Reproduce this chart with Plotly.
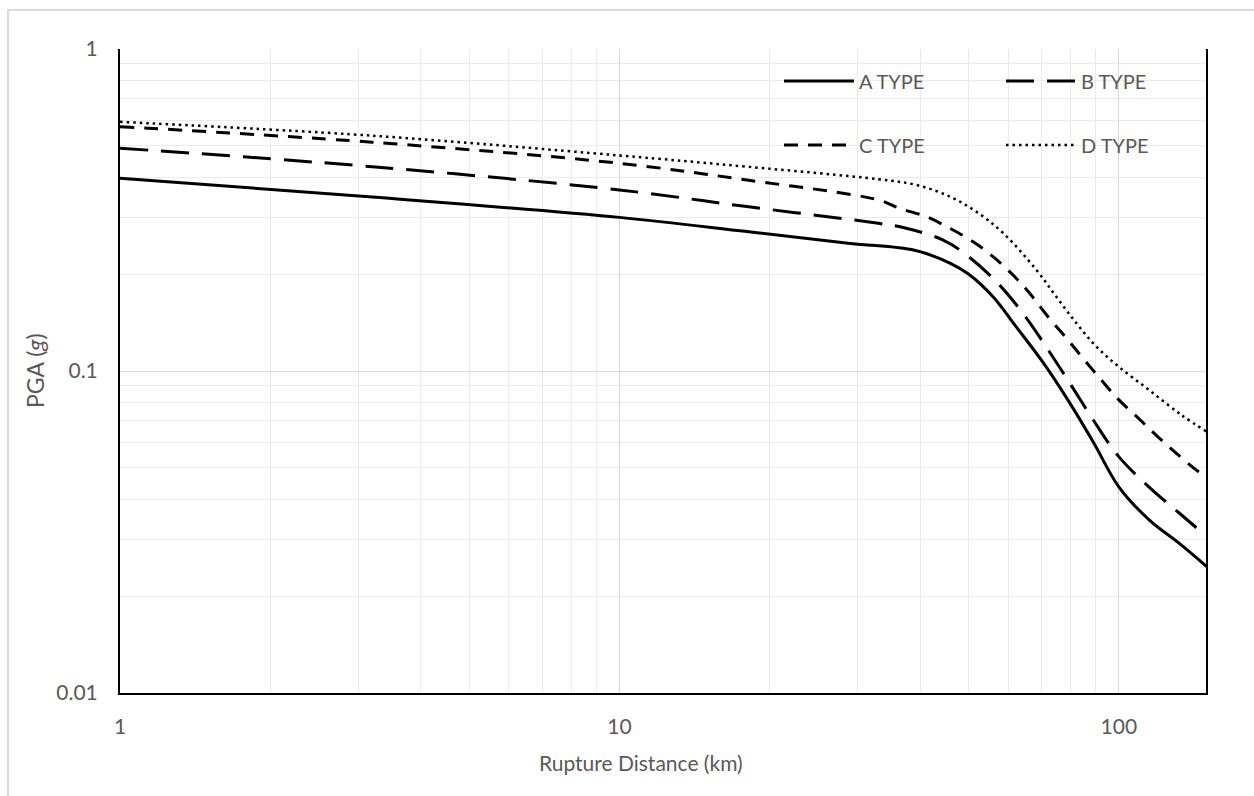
import math
import plotly.graph_objects as go

# ---- data ----
a_x = [1, 3.2, 10, 18, 29, 39, 46, 50, 56, 62, 70, 79, 89, 100, 115, 132, 150]
a_y = [0.397, 0.347, 0.300, 0.271, 0.249, 0.237, 0.216, 0.200, 0.170, 0.1385, 0.108,
       0.0815, 0.060, 0.0437, 0.0345, 0.0292, 0.0247]

b_x = [1, 3.2, 10, 18, 33, 37, 44.5, 49.6, 57.3, 64.8, 72.4, 80.6, 89.5, 100, 115, 133, 150]
b_y = [0.492, 0.431, 0.365, 0.324, 0.2875, 0.279, 0.255, 0.229, 0.187, 0.1485, 0.1156,
       0.0894, 0.0693, 0.0542, 0.0436, 0.0359, 0.0306]

c_x = [1, 3.2, 10, 18, 33, 36.4, 41.2, 45.9, 51.1, 56, 61.4, 66.3, 71.7, 78.6, 84.8,
       91.9, 99.7, 109.3, 119.3, 130.8, 144.1, 150]
c_y = [0.574, 0.5135, 0.4416, 0.3918, 0.3398, 0.32, 0.3014, 0.2774, 0.2521, 0.2265,
       0.1987, 0.1743, 0.1492, 0.1263, 0.1095, 0.0944, 0.0818, 0.0715, 0.0628, 0.0553,
       0.0488, 0.0469]

d_x = [1, 3.2, 10, 18, 33, 39.4, 45.9, 51.9, 58.7, 68.4, 75, 82.3, 90.2, 100, 115, 133.5, 150]
d_y = [0.594, 0.538, 0.467, 0.431, 0.394, 0.378, 0.348, 0.312, 0.268, 0.206, 0.170,
       0.1406, 0.119, 0.1031, 0.0873, 0.073, 0.0648]

series_names = ["A TYPE", "B TYPE", "C TYPE", "D TYPE"]
x_title = "Rupture Distance (km)"
y_title = "PGA (<i>g</i>)"

FONT = "Lato"
GRAY = "#595959"

W, H = 1254, 796
L, R, T, B = 120, 1254 - 1206, 49, 796 - 693
pw, ph = W - L - R, H - T - B


def px(xp):
    return (xp - L) / pw


def py(yp):
    return (H - B - yp) / ph


fig = go.Figure()
styles = [
    dict(dash="solid", width=3),
    dict(dash="28px,13px", width=3),
    dict(dash="14px,10px", width=3),
    dict(dash="2.5px,4px", width=2.5),
]
data = [(a_x, a_y), (b_x, b_y), (c_x, c_y), (d_x, d_y)]
legends = ["legend", "legend", "legend2", "legend2"]
for (xs, ys), name, st, lg in zip(data, series_names, styles, legends):
    fig.add_trace(go.Scatter(
        x=xs, y=ys, name=name, mode="lines",
        line=dict(color="black", width=st["width"], dash=st["dash"],
                  shape="spline", smoothing=1.0),
        legend=lg,
    ))

legend_common = dict(
    orientation="h", xanchor="left", yanchor="middle",
    font=dict(family=FONT, size=20, color=GRAY),
    bgcolor="rgba(0,0,0,0)", entrywidth=137, entrywidthmode="pixels",
    itemwidth=70, traceorder="normal",
)

fig.update_layout(
    width=W, height=H,
    margin=dict(l=L, r=R, t=T, b=B, autoexpand=False),
    paper_bgcolor="white", plot_bgcolor="white",
    font=dict(family=FONT, color=GRAY, size=20),
    legend=dict(x=px(779), y=py(81), **legend_common),
    legend2=dict(x=px(779), y=py(145), **legend_common),
    xaxis=dict(
        type="log", range=[0, math.log10(149.5)], dtick=1, tick0=0,
        showgrid=True, gridcolor="#d9d9d9", gridwidth=1,
        minor=dict(dtick="D1", showgrid=True, gridcolor="#ebebeb", gridwidth=1, ticks=""),
        showline=True, linecolor="black", linewidth=2, mirror=False,
        ticks="", ticklabelstandoff=14,
        tickfont=dict(family=FONT, size=21, color=GRAY),
        zeroline=False,
    ),
    yaxis=dict(
        type="log", range=[-2, 0], dtick=1, tick0=0,
        showgrid=True, gridcolor="#d9d9d9", gridwidth=1,
        minor=dict(dtick="D1", showgrid=True, gridcolor="#ebebeb", gridwidth=1, ticks=""),
        showline=True, linecolor="black", linewidth=2, mirror=True,
        ticks="", ticklabelstandoff=16,
        tickfont=dict(family=FONT, size=21, color=GRAY),
        zeroline=False,
    ),
    annotations=[
        dict(text=x_title, xref="paper", yref="paper", x=px(641), y=py(762),
             xanchor="center", yanchor="middle", showarrow=False,
             font=dict(family=FONT, size=21, color=GRAY)),
        dict(text=y_title, xref="paper", yref="paper", x=px(35), y=py(371),
             xanchor="center", yanchor="middle", showarrow=False, textangle=-90,
             font=dict(family=FONT, size=23, color=GRAY)),
    ],
    shapes=[
        dict(type="rect", xref="paper", yref="paper",
             x0=px(8), y0=py(10), x1=px(1300), y1=py(840),
             line=dict(color="#d9d9d9", width=2), fillcolor="rgba(0,0,0,0)", layer="above"),
    ],
)

fig.write_html("out.html")
